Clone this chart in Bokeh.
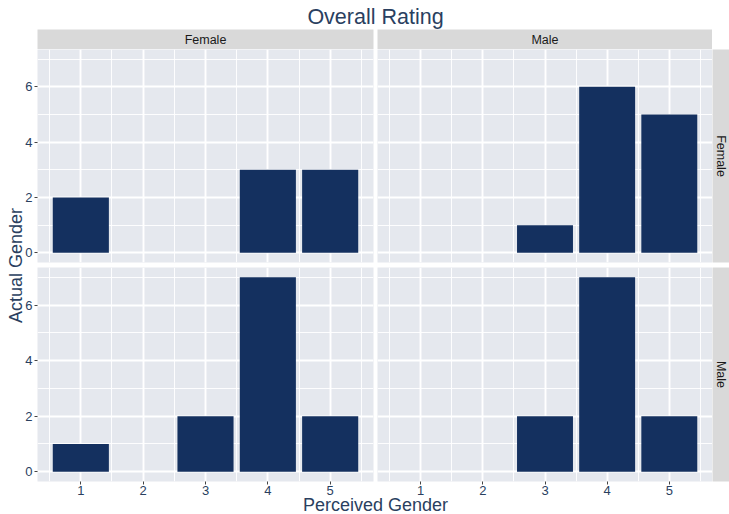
from bokeh.plotting import figure
from bokeh.layouts import column, row
from bokeh.models import Range1d, FixedTicker, ColumnDataSource, Spacer
from bokeh.core.properties import value
from bokeh.embed import file_html
from bokeh.resources import INLINE
import math

# Facet levels: columns = perceived gender panel, rows = actual gender panel
col_levels = ["Female", "Male"]
row_levels = ["Female", "Male"]

# Ratings on the x axis
ratings = [1, 2, 3, 4, 5]

# Counts per rating for each (actual, perceived) panel
counts_female_female = [2, 0, 0, 3, 3]
counts_female_male = [0, 0, 1, 6, 5]
counts_male_female = [1, 0, 2, 7, 2]
counts_male_male = [0, 0, 2, 7, 2]

y_major = [0, 2, 4, 6]
y_minor = [1, 3, 5, 7]
x_minor = [0.5, 1.5, 2.5, 3.5, 4.5, 5.5]

title_text = "Overall Rating"
x_title = "Perceived Gender"
y_title = "Actual Gender"

FONT = "Liberation Sans"
TEXT_BLUE = "#2a3f5f"
BAR = "#14305f"
PANEL_BG = "#e5e8ee"
STRIP_BG = "#d9d9d9"

X_RANGE = (0.305, 5.695)
Y_RANGE = (-0.35, 7.35)


def blank(width, height, x_range, y_range, bg="white", **kw):
    p = figure(width=width, height=height, x_range=Range1d(*x_range),
               y_range=Range1d(*y_range), x_axis_location=None,
               y_axis_location=None, toolbar_location=None,
               output_backend="svg", min_border=0,
               background_fill_color=bg, border_fill_color="white",
               outline_line_color=None, **kw)
    p.xgrid.visible = False
    p.ygrid.visible = False
    return p


def add_text(p, x, y, txt, size, color, angle=0.0):
    src = ColumnDataSource(dict(x=[x], y=[y], t=[txt]))
    p.text(x="x", y="y", text="t", source=src, text_font=value(FONT),
           text_font_size=size, text_color=color, text_align="center",
           text_baseline="middle", angle=angle)


def panel(width, height, counts, left_axis, bottom_axis, **borders):
    p = figure(width=width, height=height, x_range=Range1d(*X_RANGE),
               y_range=Range1d(*Y_RANGE),
               x_axis_location="below" if bottom_axis else None,
               y_axis_location="left" if left_axis else None,
               toolbar_location=None, output_backend="svg", min_border=0,
               background_fill_color=PANEL_BG, border_fill_color="white",
               border_fill_alpha=0, outline_line_color=None, **borders)
    xt = FixedTicker(ticks=ratings, minor_ticks=x_minor)
    yt = FixedTicker(ticks=y_major, minor_ticks=y_minor)
    p.xgrid.ticker = xt
    p.ygrid.ticker = yt
    for g in (p.xgrid, p.ygrid):
        g.grid_line_color = "white"
        g.grid_line_width = 1.9
        g.minor_grid_line_color = "white"
        g.minor_grid_line_width = 0.9
    for ax in (p.xaxis + p.yaxis):
        ax.axis_line_color = None
        ax.major_tick_line_color = "#444444"
        ax.major_tick_in = 0
        ax.major_tick_out = 3
        ax.minor_tick_line_color = None
        ax.major_label_text_font = FONT
        ax.major_label_text_font_size = "13px"
        ax.major_label_text_color = TEXT_BLUE
        ax.major_label_standoff = 1
    if bottom_axis:
        p.xaxis.ticker = xt
        p.xaxis.major_label_standoff = 0
    if left_axis:
        p.yaxis.ticker = yt
    p.vbar(x=ratings, top=counts, width=0.9, fill_color=BAR, line_color=None)
    return p


# Column geometry: ytitle 21 | left panel 354 | right panel 337 | strip 17
W_YT, W_L, W_R, W_S = 21, 354, 337, 17
LB = 16  # left border of the left-hand panels, holds the y tick labels
YT_OVERLAP = 6  # y title strip reaches into that (transparent) border
H_TITLE, H_STRIP, H_ROW1, H_ROW2, H_XT = 29, 20, 215, 236, 14
XT_OVERLAP = 8  # x title strip slides up over the tick-label margin

# Annotation strips use pixel-like ranges (measured from the page corner)
title_fig = blank(729, H_TITLE, (0, 729), (H_TITLE, 0))
add_text(title_fig, 375, 16.5, title_text, "21.5px", TEXT_BLUE)

ytitle_fig = blank(W_YT + YT_OVERLAP, H_STRIP + H_ROW1 + H_ROW2,
                   (0, W_YT + YT_OVERLAP), (500, 29),
                   margin=(0, -YT_OVERLAP, 0, 0))
ytitle_fig.background_fill_alpha = 0
ytitle_fig.border_fill_alpha = 0
add_text(ytitle_fig, 15.8, 265, y_title, "18px", TEXT_BLUE, angle=math.pi / 2)

xtitle_fig = blank(729, H_XT + XT_OVERLAP, (0, 729), (514, 500 - XT_OVERLAP),
                   margin=(-XT_OVERLAP, 0, 0, 0))
xtitle_fig.background_fill_alpha = 0
xtitle_fig.border_fill_alpha = 0
add_text(xtitle_fig, 375, 504.5, x_title, "18px", TEXT_BLUE)

strip_l = blank(W_L, H_STRIP, (0, 1), (0, 1), bg=STRIP_BG,
                min_border_left=LB, min_border_right=2)
add_text(strip_l, 0.5, 0.5, col_levels[0], "12.5px", "#1a1a1a")
strip_r = blank(W_R, H_STRIP, (0, 1), (0, 1), bg=STRIP_BG,
                min_border_left=2, min_border_right=0)
add_text(strip_r, 0.5, 0.5, col_levels[1], "12.5px", "#1a1a1a")

tl = panel(W_L, H_ROW1, counts_female_female, True, False,
           min_border_left=LB, min_border_right=2, min_border_top=0, min_border_bottom=2)
tr = panel(W_R, H_ROW1, counts_female_male, False, False,
           min_border_left=2, min_border_right=0, min_border_top=0, min_border_bottom=2)
bl = panel(W_L, H_ROW2, counts_male_female, True, True,
           min_border_left=LB, min_border_right=2, min_border_top=3, min_border_bottom=19)
br = panel(W_R, H_ROW2, counts_male_male, False, True,
           min_border_left=2, min_border_right=0, min_border_top=3, min_border_bottom=19)

rs1 = blank(W_S, H_ROW1, (0, 1), (0, 1), bg=STRIP_BG,
            min_border_top=0, min_border_bottom=2)
add_text(rs1, 0.5, 0.5, row_levels[0], "12.5px", "#1a1a1a", angle=-math.pi / 2)
rs2 = blank(W_S, H_ROW2, (0, 1), (0, 1), bg=STRIP_BG,
            min_border_top=3, min_border_bottom=19)
add_text(rs2, 0.5, 0.5, row_levels[1], "12.5px", "#1a1a1a", angle=-math.pi / 2)

grid = column(
    row(strip_l, strip_r, Spacer(width=W_S, height=H_STRIP)),
    row(tl, tr, rs1),
    row(bl, br, rs2),
)
layout = column(title_fig, row(ytitle_fig, grid), xtitle_fig)

open("out.html", "w").write(file_html(layout, INLINE))
